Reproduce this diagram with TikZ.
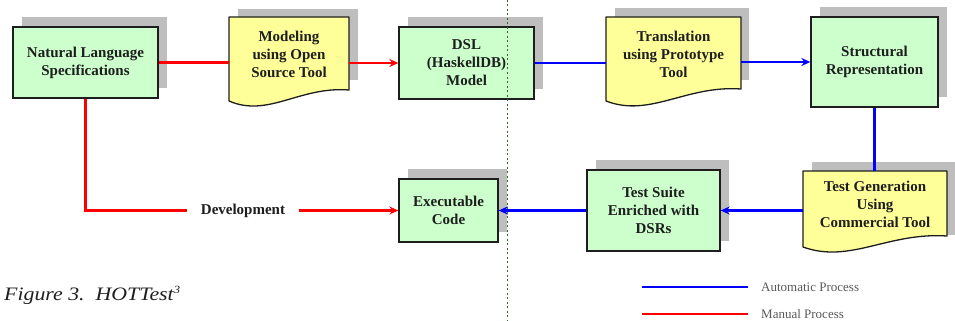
\documentclass[tikz,border=0pt]{standalone}
\usepackage{fontspec}
\setmainfont{Liberation Serif}
\newfontfamily\capfont[FakeStretch=1.15]{Liberation Serif}
\usetikzlibrary{arrows.meta,backgrounds}
\definecolor{boxgreen}{RGB}{204,255,204}
\definecolor{docyellow}{RGB}{255,255,153}
\definecolor{shadowgray}{RGB}{190,190,190}
\definecolor{guidegreen}{RGB}{40,110,40}
\definecolor{inkgray}{RGB}{30,30,30}
\tikzset{
  boxfont/.style={font=\fontsize{15}{18}\selectfont\bfseries, text=inkgray},
  procbox/.style={boxfont, draw=inkgray, line width=1.3pt, fill=boxgreen, align=center, inner sep=0pt},
  docnode/.style={boxfont, align=center, inner sep=0pt},
  docshape/.style={draw=inkgray, line width=1.3pt, fill=docyellow, line join=round},
  shadowfill/.style={fill=shadowgray, draw=none},
  manual/.style={draw=red, line width=2.3pt},
  autoline/.style={draw=blue, line width=2.8pt},
  arrowend/.style={-{Stealth[length=9pt,width=8pt,inset=3pt]}},
  legendtext/.style={font=\fontsize{13}{15}\selectfont, text=black!65, anchor=west, inner sep=0pt}
}
\begin{document}
\begin{tikzpicture}[x=1pt,y=-1pt]
\useasboundingbox (0,0) rectangle (955,321);

% ---- shadows ----
\fill[shadowfill] (22,17) rectangle (167,88);
\fill[shadowfill] (238,9) rectangle (358,80);
\fill[shadowfill] (408,17) rectangle (543,89);
\fill[shadowfill] (615,8) rectangle (749,80);
\fill[shadowfill] (820,7) rectangle (947,97);
\fill[shadowfill] (812,162) rectangle (955,235);
\fill[shadowfill] (596,160) rectangle (729,241);
\fill[shadowfill] (408,169) rectangle (507,232);

% ---- document shapes ----
\draw[docshape] (229,17) -- (349,17) -- (349,90) .. controls (300,86) and (268,118) .. (229,101) -- cycle;
\draw[docshape] (606,17) -- (741,17) -- (741,89) .. controls (686,85) and (650,118) .. (606,101) -- cycle;
\draw[docshape] (803,171) -- (947,171) -- (947,236) .. controls (888,232) and (850,264) .. (803,247) -- cycle;

% ---- nodes ----
\node[procbox, minimum width=145pt, minimum height=71pt] (nls) at (85.5,62.5) {Natural Language\\Specifications};
\node[docnode, minimum width=120pt, minimum height=74pt] (model) at (289,54) {Modeling\\using Open\\Source Tool};
\node[procbox, minimum width=135pt, minimum height=72pt] (dsl) at (466.5,63) {DSL\\(HaskellDB)\\Model};
\node[docnode, minimum width=135pt, minimum height=74pt] (trans) at (673.5,54) {Translation\\using Prototype\\Tool};
\node[procbox, minimum width=127pt, minimum height=90pt] (struct) at (874.5,62) {Structural\\Representation};
\node[docnode, minimum width=144pt, minimum height=66pt] (testgen) at (875,204) {Test Generation\\Using\\Commercial Tool};
\node[procbox, minimum width=133pt, minimum height=81pt] (suite) at (653.5,210.5) {Test Suite\\Enriched with\\DSRs};
\node[procbox, minimum width=99pt, minimum height=63pt] (exec) at (448.5,210.5) {Executable\\Code};

% ---- connectors ----
\draw[manual] (nls.east) -- (nls.east -| model.west);
\draw[manual, arrowend] (model.east |- dsl.west) -- (dsl.west);
\draw[autoline] (dsl.east) -- (dsl.east -| trans.west);
\draw[autoline, arrowend] (trans.east |- struct.west) -- (struct.west);
\draw[autoline] (struct.south) -- (struct.south |- testgen.north);
\draw[autoline, arrowend] (testgen.west |- suite.east) -- (suite.east);
\draw[autoline, arrowend] (suite.west) -- (exec.east);
\draw[manual, arrowend] (nls.south) |- (exec.west);
\node[boxfont, fill=white, inner xsep=14pt, inner ysep=2pt] (dev) at (243,211) {Development};

% ---- guide line ----
\coordinate (gtop) at (507,0);
\coordinate (gbot) at (507,321);
\draw[guidegreen, line width=0.7pt, dash pattern=on 2pt off 2.5pt] (gtop) -- (gbot);

% ---- legend ----
\node[legendtext] (autolbl) at (761,287) {Automatic Process};
\node[legendtext] (manlbl) at (761,314) {Manual Process};
\coordinate (autostart) at (642,287);
\coordinate (manstart) at (642,314);
\draw[autoline, line width=2.4pt] (autostart) -- ([xshift=-13pt]autolbl.west);
\draw[manual, line width=2.2pt] (manstart) -- ([xshift=-13pt]manlbl.west);

% ---- caption ----
\node[anchor=base west, inner sep=0pt, font=\fontsize{19}{21}\selectfont\capfont\itshape, text=inkgray] (cap) at (4,300) {Figure 3.\ \ HOTTest{\fontsize{11}{12}\selectfont\raisebox{7pt}{3}}};
\end{tikzpicture}
\end{document}
